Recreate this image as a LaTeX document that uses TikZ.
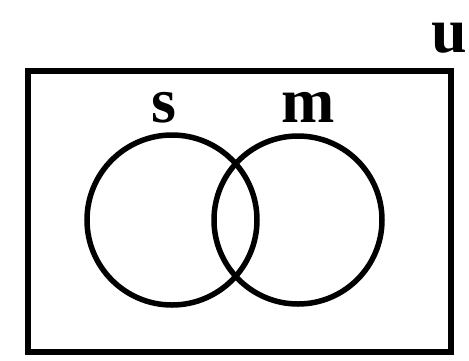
\documentclass[tikz,border=0pt]{standalone}
\usepackage{fontspec}
\setmainfont{Liberation Serif}
\begin{document}
\begin{tikzpicture}[x=1pt,y=-1pt,
  lbl/.style={font=\fontsize{64}{64}\selectfont\bfseries, inner sep=0pt, anchor=base},
  setc/.style={draw=black, line width=5.5pt},
  uni/.style={draw=black, line width=6.5pt}]
\useasboundingbox (0,0) rectangle (469,360);
\fill[white] (0,0) rectangle (469,360);
\draw[uni] (28,71) rectangle (451,352);
\node[setc, circle, minimum size=170pt, inner sep=0pt] (s) at (172,220) {};
\node[setc, circle, minimum size=168pt, inner sep=0pt] (m) at (298,220) {};
\node[lbl] (ls) at (164,122) {s};
\node[lbl] (lm) at (308,122) {m};
\node[lbl] (lu) at (449,52) {u};
\end{tikzpicture}
\end{document}
